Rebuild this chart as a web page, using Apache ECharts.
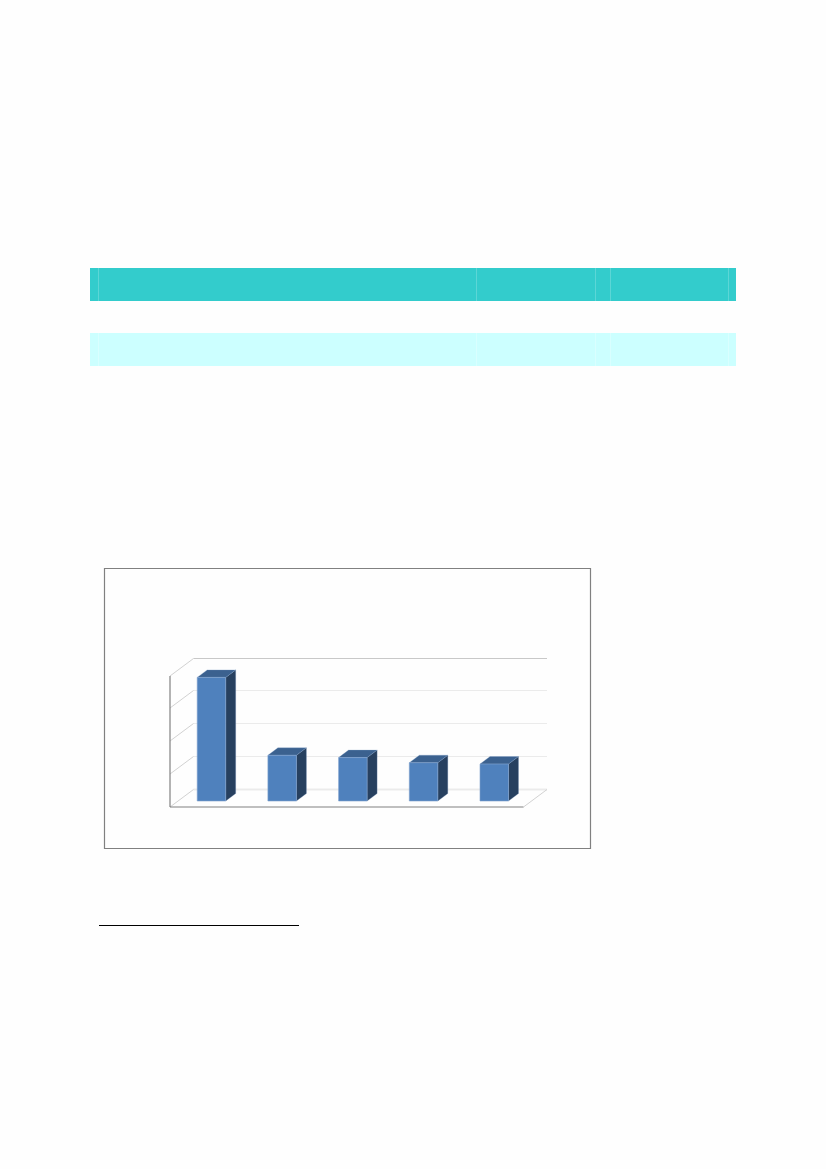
<!DOCTYPE html>
<html>
<head>
<meta charset="utf-8">
<style>html,body{margin:0;padding:0;background:#fefefe}#c{width:826px;height:1169px}</style>
<script src="https://cdn.jsdelivr.net/npm/echarts@6/dist/echarts.min.js"></script>
</head>
<body>
<div id="c"></div>
<script>
const categories = ['1', '2', '3', '4', '5'];
const barValues = [37.6, 13.9, 13.2, 11.65, 11.25];
const wallTicks = [0, 10, 20, 30, 40];

const DX = 23.5, DY = 17.5;         // full depth of the 3D box
const BX = 17.4, BY = -12;          // front of bars relative to the back wall
const BW = 28.5, BDX = 10, BDY = 7.5; // bar width and depth

const chart = echarts.init(document.getElementById('c'), null, {renderer: 'canvas'});

function tableRow(y, h, fill, sep) {
  const out = [{type: 'rect', shape: {x: 90, y: y, width: 646, height: h}, style: {fill: fill}, silent: true}];
  [98, 476, 595, 610, 728].forEach(function (x) {
    out.push({type: 'rect', shape: {x: x, y: y, width: 1, height: h}, style: {fill: sep}, silent: true});
  });
  return out;
}

chart.setOption({
  animation: false,
  backgroundColor: '#fefefe',
  graphic: {elements: [].concat(
    tableRow(268, 33, '#33cccc', '#5cd6d6'),
    tableRow(333, 33, '#ccffff', '#d9ffff'),
    [
      {type: 'rect', shape: {x: 104.5, y: 568.5, width: 486, height: 280},
        style: {fill: '#fefefe', stroke: '#808080', lineWidth: 1.2}, silent: true, z: -1},
      {type: 'rect', shape: {x: 99, y: 925, width: 200, height: 1}, style: {fill: '#000'}, silent: true}
    ]
  )},
  grid: {left: 193.5, top: 657.5, width: 353.5, height: 131.5, containLabel: false},
  xAxis: {type: 'category', data: categories, axisLine: {show: false}, axisTick: {show: false}, axisLabel: {show: false}},
  yAxis: {type: 'value', min: 0, max: 40, interval: 10, axisLine: {show: false}, axisTick: {show: false}, axisLabel: {show: false},
    splitLine: {show: false}},
  series: [
    {
      type: 'custom', silent: true, z: 2,
      data: wallTicks.map(function (v) { return [0, v]; }),
      encode: {x: 0, y: 1},
      renderItem: function (params, api) {
        const v = api.value(1);
        const p = api.coord([0, v]);
        const band = api.size([1, 0])[0];
        const x0 = p[0] - band / 2;
        const x1 = x0 + band * categories.length;
        const y = Math.round(p[1]) + 0.5;
        const isTop = v === wallTicks[wallTicks.length - 1], isBase = v === 0;
        const kids = [
          {type: 'line', shape: {x1: x0, y1: y, x2: x1, y2: y},
            style: {stroke: isTop ? '#c8c8c8' : '#ebebeb', lineWidth: isBase ? 2 : 1}},
          {type: 'line', shape: {x1: x0, y1: y, x2: x0 - DX, y2: y + DY},
            style: {stroke: '#d2d2d2', lineWidth: 1}}
        ];
        if (isBase) {
          kids.push({type: 'line', shape: {x1: x1, y1: y, x2: x1 - DX, y2: y + DY}, style: {stroke: '#d2d2d2', lineWidth: 1}});
          kids.push({type: 'line', shape: {x1: x0 - DX, y1: y + DY, x2: x1 - DX, y2: y + DY}, style: {stroke: '#808080', lineWidth: 1.2}});
        }
        if (isTop) {
          const b = api.coord([0, 0]);
          kids.push({type: 'line', shape: {x1: x0 - DX, y1: y + DY, x2: x0 - DX, y2: Math.round(b[1]) + 0.5 + DY},
            style: {stroke: '#808080', lineWidth: 1.2}});
        }
        return {type: 'group', children: kids};
      }
    },
    {
      type: 'custom', silent: true, z: 3,
      data: barValues.map(function (v, i) { return [i, v]; }),
      encode: {x: 0, y: 1},
      renderItem: function (params, api) {
        const t = api.coord([api.value(0), api.value(1)]);
        const b = api.coord([api.value(0), 0]);
        const xl = t[0] - BX - BW / 2, xr = xl + BW;
        const yt = t[1] - BY, yb = b[1] - BY;
        return {type: 'group', children: [
          {type: 'polygon', shape: {points: [[xr, yt], [xr + BDX, yt - BDY], [xr + BDX, yb - BDY], [xr, yb]]},
            style: {fill: '#27405f', stroke: '#6f8db5', lineWidth: 0.3}},
          {type: 'polygon', shape: {points: [[xl, yt], [xl + BDX, yt - BDY], [xr + BDX, yt - BDY], [xr, yt]]},
            style: {fill: '#3b618f', stroke: '#7f9fc8', lineWidth: 0.3}},
          {type: 'rect', shape: {x: xl, y: yt, width: BW, height: yb - yt},
            style: {fill: '#4f81bd', stroke: '#82a3cf', lineWidth: 0.6}}
        ]};
      }
    }
  ]
});
</script>
</body>
</html>
